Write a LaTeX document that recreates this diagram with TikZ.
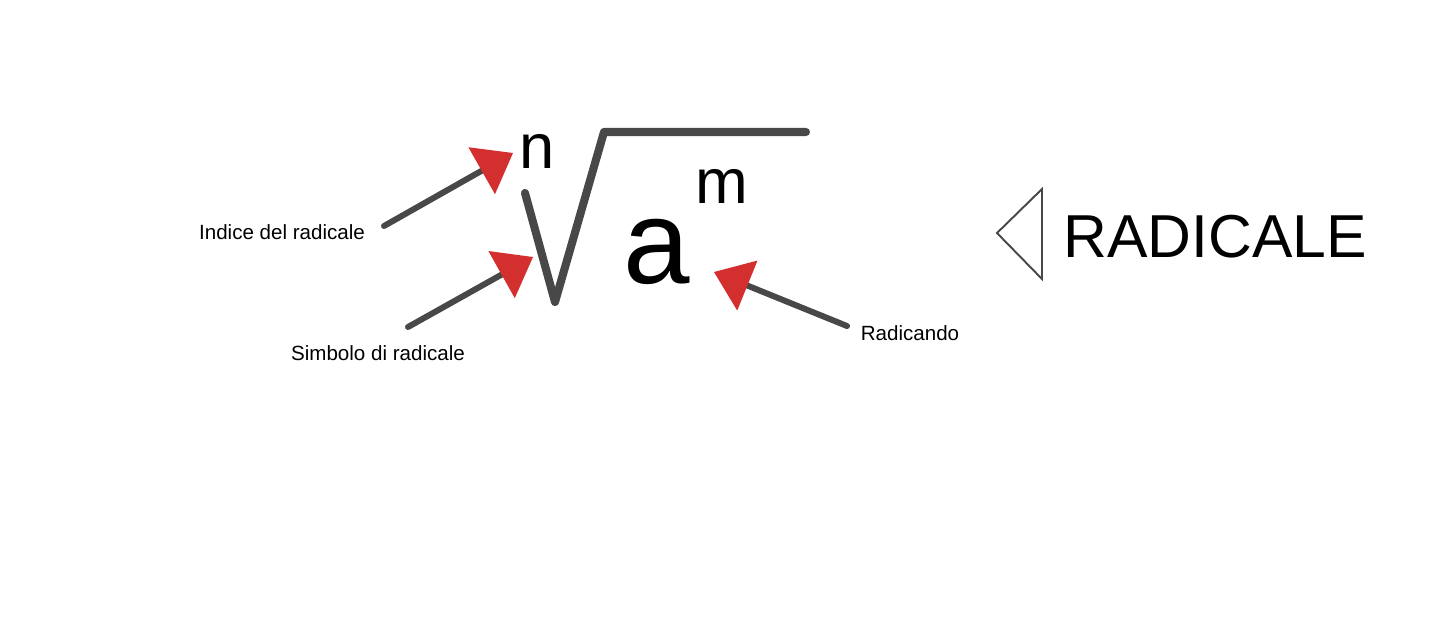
\documentclass[tikz,border=0pt]{standalone}
\usepackage{fontspec}
\setmainfont{Liberation Sans}
\usetikzlibrary{
    arrows.meta
}
\definecolor{stroke}{RGB}{72,72,72}
\definecolor{tipred}{RGB}{211,47,47}

\begin{document}
\begin{tikzpicture}[
    radical/.style={
        draw=stroke,
        line width=4.6pt,
        line cap=round,
        line join=round
    },
    pointer/.style={
        draw=stroke,
        line width=3.4pt,
        line cap=round,
        -{Triangle[length=7.2mm,width=10.8mm,color=tipred,line width=0pt]}
    },
    caption/.style={
        inner sep=0pt,
        font=\fontsize{11.7pt}{14pt}\selectfont
    },
    exponent/.style={
        inner sep=0pt,
        font=\fontsize{36pt}{40pt}\selectfont
    }
]

\useasboundingbox (0,0) rectangle (28.98,-12.40);

% radical sign

\draw[radical]
    (10.50,-3.86) --
    (11.10,-6.04) --
    (12.08,-2.64) --
    (16.12,-2.64);

% index, radicand and exponent

\node[exponent] (index) at (10.75,-3.03) {n};

\node[exponent] (power) at (14.44,-3.72) {m};

\node[
    inner sep=0pt,
    font=\fontsize{68pt}{72pt}\selectfont
] (base) at (13.14,-5.04) {a};

% title with marker

\draw[draw=stroke, line width=1.1pt, line join=miter]
    (19.94,-4.66) --
    (20.84,-3.78) --
    (20.84,-5.58) --
    cycle;

\node[
    inner sep=0pt,
    font=\fontsize{34.5pt}{38pt}\selectfont
] (title) at (24.30,-4.74) {RADICALE};

% captions

\node[caption] (indexlabel) at (5.64,-4.64) {
    Indice del radicale
};

\node[caption] (signlabel) at (7.56,-7.06) {
    Simbolo di radicale
};

\node[caption] (radicandlabel) at (18.20,-6.66) {
    Radicando
};

% arrow ends

\coordinate (indextail) at (7.68,-4.52);
\coordinate (indextip) at (10.26,-3.06);
\coordinate (signtail) at (8.16,-6.54);
\coordinate (signtip) at (10.66,-5.14);
\coordinate (radicandtail) at (16.94,-6.52);
\coordinate (radicandtip) at (14.28,-5.44);

% pointers

\draw[pointer] (indextail) -- (indextip);

\draw[pointer] (signtail) -- (signtip);

\draw[pointer] (radicandtail) -- (radicandtip);

\end{tikzpicture}
\end{document}
